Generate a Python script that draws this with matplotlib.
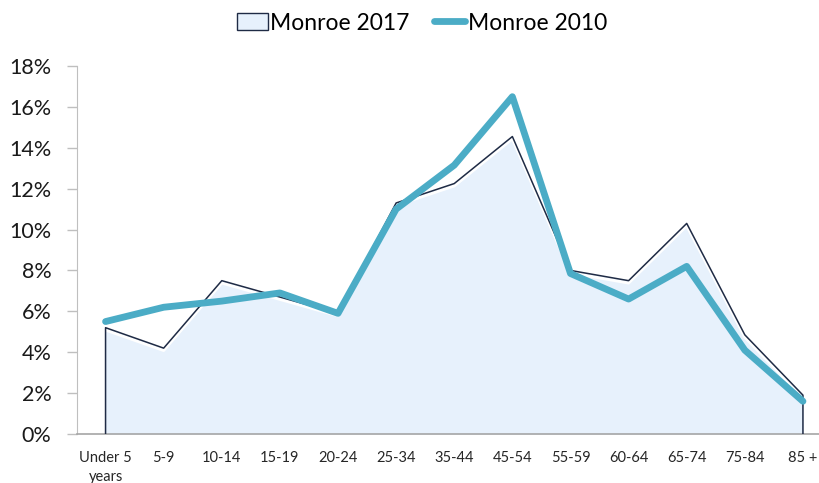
import matplotlib
matplotlib.use("Agg")
import matplotlib.pyplot as plt
import matplotlib.patches as mpatches
from matplotlib.lines import Line2D
from matplotlib.ticker import FuncFormatter, MultipleLocator
import numpy as np

categories = ["Under 5\nyears", "5-9", "10-14", "15-19", "20-24", "25-34", "35-44",
              "45-54", "55-59", "60-64", "65-74", "75-84", "85 +"]
monroe_2017 = [5.2, 4.2, 7.5, 6.7, 5.9, 11.3, 12.25, 14.55, 8.0, 7.5, 10.3, 4.85, 1.9]
monroe_2010 = [5.5, 6.2, 6.5, 6.9, 5.9, 11.0, 13.15, 16.5, 7.85, 6.6, 8.2, 4.1, 1.6]

plt.rcParams['font.family'] = ['Lato', 'DejaVu Sans']

fig = plt.figure(figsize=(8.19, 4.83), dpi=100)
W, H = 819, 483
left_px, right_px = 76.5, 832
bot_px, top_px = 434, 66
ax = fig.add_axes([left_px / W, (H - bot_px) / H, (right_px - left_px) / W, (bot_px - top_px) / H])

x = np.arange(len(categories))
ax.fill_between(x, 0, monroe_2017, color="#e7f1fc", zorder=1, lw=0)
# white glow under the 2017 outline
ax.plot(x, np.array(monroe_2017) - 0.12, color="white", lw=2.0, zorder=2, solid_joinstyle="round")
ax.plot(np.r_[x[0], x, x[-1]], np.r_[0, monroe_2017, 0], color="#1f2b45", lw=1.1, zorder=3)
ax.plot(x, monroe_2010, color="#4bacc6", lw=4.9, zorder=4, solid_capstyle="round",
        solid_joinstyle="round")

ax.set_xlim(-0.5, len(categories) - 0.5)
ax.set_ylim(0, 18)
ax.yaxis.set_major_locator(MultipleLocator(2))
ax.yaxis.set_major_formatter(FuncFormatter(lambda v, p: f"{v:.0f}%"))
ax.set_xticks(x)
ax.set_xticklabels(categories, fontsize=10.5, color="#262626", linespacing=1.45)
ax.tick_params(axis="x", length=0, pad=12)
ax.tick_params(axis="y", length=7, width=1, color="#bfbfbf", labelsize=15.5, labelcolor="#1a1a1a", pad=11)

for s in ["top", "right"]:
    ax.spines[s].set_visible(False)
ax.spines["left"].set_color("#bfbfbf")
ax.spines["bottom"].set_color("#a6a6a6")
ax.spines["bottom"].set_linewidth(1.2)

h1 = mpatches.Patch(facecolor="#e7f1fc", edgecolor="#1f2b45", linewidth=1.0)
h2 = Line2D([0], [0], color="#4bacc6", lw=4.9, solid_capstyle="round")
fig.legend([h1, h2], ["Monroe 2017", "Monroe 2010"], loc="center", bbox_to_anchor=(0.515, 1 - 23 / H),
           ncol=2, frameon=False, fontsize=16.5, handlelength=1.35, handletextpad=0.1,
           columnspacing=1.1, handleheight=0.75)

fig.savefig("out.png", dpi=100)
